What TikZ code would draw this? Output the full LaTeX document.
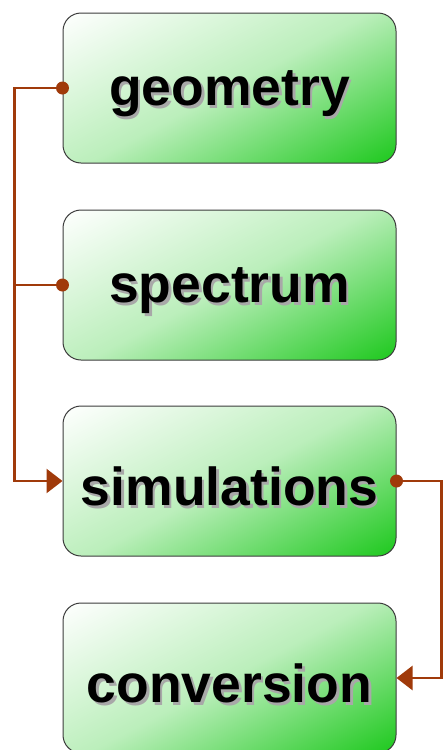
\documentclass[tikz,border=0pt]{standalone}
\usepackage{fontspec}
\setmainfont{Liberation Sans}
\usepackage{tikz}
\usetikzlibrary{arrows.meta,calc,positioning}
\usepackage{xcolor}
\definecolor{boxgreen}{HTML}{1CC81C}
\definecolor{edge}{HTML}{3C3C3C}
\definecolor{wirered}{HTML}{A03A0A}
\definecolor{shadowgray}{HTML}{A8A8A8}
\newcommand{\shadowed}[1]{\raisebox{-7pt}[\height][\depth]{\makebox[0pt][l]{\hspace{2.5pt}\raisebox{-2.5pt}{\textcolor{shadowgray}{#1}}}#1}}
\pgfdeclareverticalshading{stagefill}{100bp}{color(0bp)=(boxgreen); color(16bp)=(boxgreen);
  color(50bp)=(boxgreen!30); color(84bp)=(white); color(100bp)=(white)}

\begin{document}
\begin{tikzpicture}[
  stage/.style={draw=edge,line width=1pt,rounded corners=18pt,minimum width=333pt,minimum height=150pt,
    shading=stagefill,shading angle=28,
    font=\fontsize{53.5}{60}\selectfont\bfseries},
  wire/.style={wirered,line width=2.6pt},
  tip/.style={-{Triangle[length=16pt,width=24pt]}},
  node distance=46pt
]
\useasboundingbox (0,0) rectangle (444pt,-750pt);
\node[stage] (geo) at (229.5pt,-88pt) {\shadowed{geometry}};
\node[stage,below=46pt of geo] (spec) {\shadowed{spectrum}};
\node[stage,below=45pt of spec] (sim) {\shadowed{simulations}};
\node[stage,below=46pt of sim] (conv) {\shadowed{conversion}};
% feed lines on the left
\coordinate (busl) at ($(geo.west)+(-48pt,0)$);
\draw[wire,tip] (geo.west) -- (busl) |- (sim.west);
\draw[wire] (spec.west) -- (busl |- spec.west);
\fill[wire] (geo.west) circle (6.5pt);
\fill[wire] (spec.west) circle (6.5pt);
% output line on the right
\coordinate (busr) at ($(sim.east)+(45pt,0)$);
\draw[wire,tip] (sim.east) -- (busr) |- (conv.east);
\fill[wire] (sim.east) circle (6.5pt);
\end{tikzpicture}
\end{document}
